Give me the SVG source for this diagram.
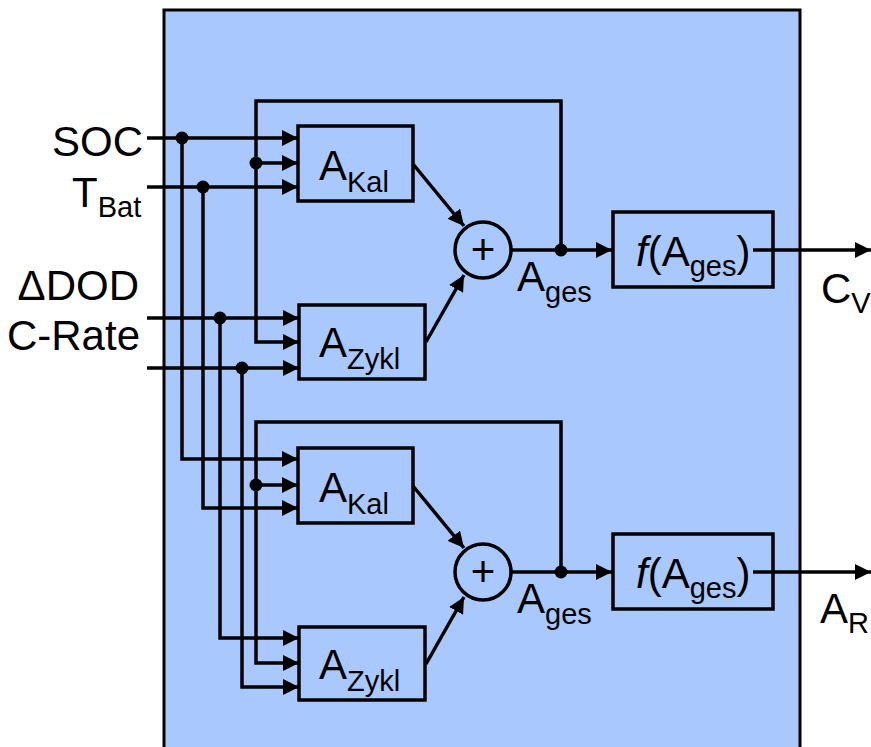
<svg xmlns="http://www.w3.org/2000/svg" width="871" height="747" viewBox="0 0 871 747">
<style>
text{font-family:"Liberation Sans",Arial,sans-serif;font-size:42px;fill:#000}
.sub{font-size:29px}
.box{fill:none;stroke:#000;stroke-width:3.5}
.w{fill:none;stroke:#000;stroke-width:3.5;stroke-linejoin:miter}
.a{marker-end:url(#arr)}
.dot{fill:#000}
</style>
<defs>
<marker id="arr" markerUnits="userSpaceOnUse" markerWidth="16" markerHeight="16" refX="15" refY="7.5" orient="auto" viewBox="0 0 15 15">
<path d="M0,0 L15,7.5 L0,15 z" fill="#000"/>
</marker>
</defs>
<rect id="frame" x="164" y="10" width="636" height="745" fill="#a8c8fe" stroke="#000" stroke-width="3"/>

<g id="labels">
<text x="143" y="156" text-anchor="end">SOC</text>
<text x="72" y="207">T<tspan class="sub" dy="10">Bat</tspan></text>
<text x="139" y="300" text-anchor="end">ΔDOD</text>
<text x="140" y="350" text-anchor="end">C-Rate</text>
</g>

<g id="connectors">
<path class="w a" d="M147,138 H298"/>
<path class="w a" d="M147,187 H298"/>
<path class="w a" d="M147,318 H299"/>
<path class="w a" d="M147,368 H299"/>
<path class="w a" d="M182,138 V459 H298"/>
<path class="w a" d="M203,187 V508 H298"/>
<path class="w a" d="M220,318 V638 H299"/>
<path class="w a" d="M242,368 V687 H299"/>
<path class="w a" d="M561,250 V101 H256 V342 H299"/>
<path class="w a" d="M256,163 H298"/>
<path class="w a" d="M561,572 V422 H256 V663 H299"/>
<path class="w a" d="M256,485 H298"/>
<path class="w a" d="M413,164 L464,226"/>
<path class="w a" d="M426,342 L464,275"/>
<path class="w a" d="M413,486 L464,548"/>
<path class="w a" d="M426,664 L464,597"/>
<path class="w a" d="M511,250 H612"/>
<path class="w a" d="M511,572 H612"/>
<path class="w a" d="M753,250 H871"/>
<path class="w a" d="M753,572 H871"/>
<circle class="dot" cx="182" cy="138" r="6.5"/>
<circle class="dot" cx="203" cy="187" r="6.5"/>
<circle class="dot" cx="220" cy="318" r="6.5"/>
<circle class="dot" cx="242" cy="368" r="6.5"/>
<circle class="dot" cx="256" cy="163" r="6.5"/>
<circle class="dot" cx="256" cy="485" r="6.5"/>
<circle class="dot" cx="561" cy="250" r="6.5"/>
<circle class="dot" cx="561" cy="572" r="6.5"/>
</g>

<g id="akal1">
<rect class="box" x="298" y="126" width="115" height="75"/>
<text x="319" y="180">A<tspan class="sub" dy="12">Kal</tspan></text>
</g>
<g id="azykl1">
<rect class="box" x="299" y="305" width="126" height="74"/>
<text x="319" y="357">A<tspan class="sub" dy="12">Zykl</tspan></text>
</g>
<g id="sum1">
<circle cx="483" cy="250" r="28" fill="none" stroke="#000" stroke-width="3.5"/>
<text x="483" y="264" text-anchor="middle">+</text>
<text x="517" y="291">A<tspan class="sub" dy="11">ges</tspan></text>
</g>
<g id="f1">
<rect class="box" x="613" y="212" width="160" height="75"/>
<text x="636" y="266"><tspan font-style="italic">f</tspan>(A<tspan class="sub" dy="10">ges</tspan><tspan dy="-10">)</tspan></text>
</g>
<g id="out1">
<text x="821" y="303">C<tspan class="sub" dy="10">V</tspan></text>
</g>

<g id="akal2">
<rect class="box" x="298" y="448" width="115" height="75"/>
<text x="319" y="502">A<tspan class="sub" dy="12">Kal</tspan></text>
</g>
<g id="azykl2">
<rect class="box" x="299" y="627" width="126" height="73"/>
<text x="319" y="679">A<tspan class="sub" dy="12">Zykl</tspan></text>
</g>
<g id="sum2">
<circle cx="483" cy="572" r="28" fill="none" stroke="#000" stroke-width="3.5"/>
<text x="483" y="586" text-anchor="middle">+</text>
<text x="517" y="613">A<tspan class="sub" dy="11">ges</tspan></text>
</g>
<g id="f2">
<rect class="box" x="613" y="534" width="160" height="75"/>
<text x="636" y="588"><tspan font-style="italic">f</tspan>(A<tspan class="sub" dy="10">ges</tspan><tspan dy="-10">)</tspan></text>
</g>
<g id="out2">
<text x="820" y="623">A<tspan class="sub" dy="10">R</tspan></text>
</g>
</svg>
